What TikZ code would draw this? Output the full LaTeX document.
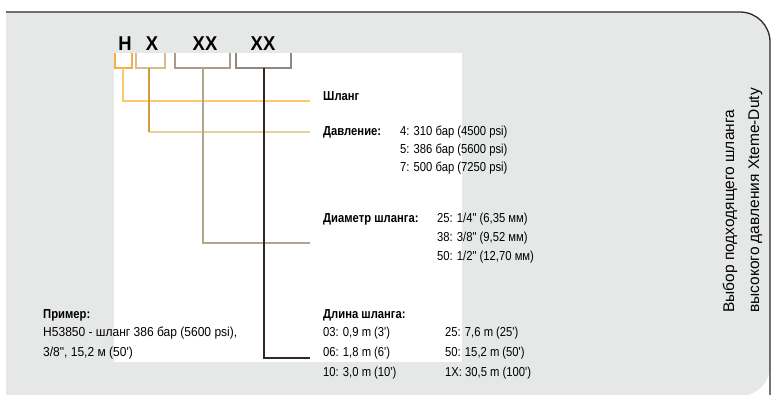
\documentclass[tikz,border=0pt]{standalone}
\usepackage{fontspec}
\setmainfont{Liberation Sans}
\newfontfamily\cf[FakeStretch=0.865]{Liberation Sans}
\newfontfamily\cfw[FakeStretch=0.925]{Liberation Sans}
\newfontfamily\cfc[FakeStretch=0.92]{Liberation Sans}
\definecolor{panel}{HTML}{E6E7E7}
\definecolor{bordc}{HTML}{2A2A2A}
\definecolor{hbr}{HTML}{F4AE45}
\definecolor{hln}{HTML}{FBC86E}
\definecolor{xbr}{HTML}{D9BC8C}
\definecolor{xln}{HTML}{D39A3C}
\definecolor{xhl}{HTML}{E9CF9C}
\definecolor{abr}{HTML}{AC9A8C}
\definecolor{aln}{HTML}{B0A68E}
\definecolor{bbr}{HTML}{8D8884}
\definecolor{bln}{HTML}{352820}
\begin{document}
\begin{tikzpicture}[x=1pt,y=-1pt,
  txt/.style={anchor=base west,inner sep=0pt,font=\cf\fontsize{13}{15}\selectfont},
  txw/.style={anchor=base west,inner sep=0pt,font=\cfw\fontsize{13}{15}\selectfont},
  hd/.style={txt,font=\cf\bfseries\fontsize{13}{15}\selectfont},
  code/.style={anchor=base,inner sep=0pt,font=\cfc\bfseries\fontsize{20}{22}\selectfont},
  ttl/.style={anchor=base west,inner sep=0pt,rotate=90,font=\fontsize{15.5}{18}\selectfont},
  brk/.style={line width=2pt},
  conn/.style={line width=1.8pt}]
\useasboundingbox (0,0) rectangle (771,394);
% panel
\fill[panel] (6,396) -- (6,12) [rounded corners=30pt] -- (770,12) -- (770,396) [sharp corners] -- cycle;
\draw[bordc,line width=1.3pt,rounded corners=30pt] (6,12) -- (770,12) -- (770,396);
% white area
\fill[white] (114,53) rectangle (462,362);
% code letters
\node[code] (cH) at (125,50.5) {H};
\node[code] (cX) at (152,50.5) {X};
\node[code] (cA) at (205,50.5) {XX};
\node[code] (cB) at (263,50.5) {XX};
% brackets
\draw[brk,hbr] (115,53) -- (115,68) -- (132,68) -- (132,53);
\draw[brk,xbr] (136,53) -- (136,68) -- (165,68) -- (165,53);
\draw[brk,abr] (175,53) -- (175,68) -- (230,68) -- (230,53);
\draw[brk,bbr] (236,53) -- (236,68) -- (291,68) -- (291,53);
\coordinate (bH) at (123,68);
\coordinate (bX) at (149,68);
\coordinate (bA) at (203,68);
\coordinate (bB) at (264,68);
\coordinate (eH) at (310,101);
\coordinate (eX) at (310,132);
\coordinate (eA) at (310,243);
\coordinate (eB) at (310,358);
% connectors
\draw[conn,hln] (bH) |- (eH);
\draw[conn,xhl,line width=2.6pt] (bX |- eX) -- (eX);
\draw[conn,xln] (bX) -- (bX |- eX);
\draw[conn,aln] (bA) |- (eA);
\draw[conn,bln] (bB) |- (eB);
% labels
\node[hd] (lH) at (323,100) {Шланг};
\node[hd] (lP) at (323,135) {Давление:};
\node[txt] (p1) at (400,135) {4: 310 бар (4500 psi)};
\node[txt] (p2) at (400,153) {5: 386 бар (5600 psi)};
\node[txt] (p3) at (400,171) {7: 500 бар (7250 psi)};
\node[hd] (lD) at (323,222.5) {Диаметр шланга:};
\node[txt] (d1) at (437,222.5) {25: 1/4" (6,35 мм)};
\node[txt] (d2) at (437,241) {38: 3/8" (9,52 мм)};
\node[txt] (d3) at (437,260.5) {50: 1/2" (12,70 мм)};
\node[hd] (lL) at (323,318) {Длина шланга:};
\node[txt] (l1) at (323,336.5) {03: 0,9 m (3')};
\node[txt] (l2) at (323,356) {06: 1,8 m (6')};
\node[txt] (l3) at (323,376) {10: 3,0 m (10')};
\node[txt] (l4) at (445,336.5) {25: 7,6 m (25')};
\node[txt] (l5) at (445,356) {50: 15,2 m (50')};
\node[txt] (l6) at (445,376) {1X: 30,5 m (100')};
\node[hd] (lE) at (43,318) {Пример:};
\node[txw] (e1) at (43,336.5) {H53850 - шланг 386 бар (5600 psi),};
\node[txw] (e2) at (43,356) {3/8", 15,2 м (50')};
% title
\node[ttl] (t1) at (734,313) {Выбор подходящего шланга};
\node[ttl] (t2) at (759,313) {высокого давления Xteme-Duty};
\end{tikzpicture}
\end{document}
